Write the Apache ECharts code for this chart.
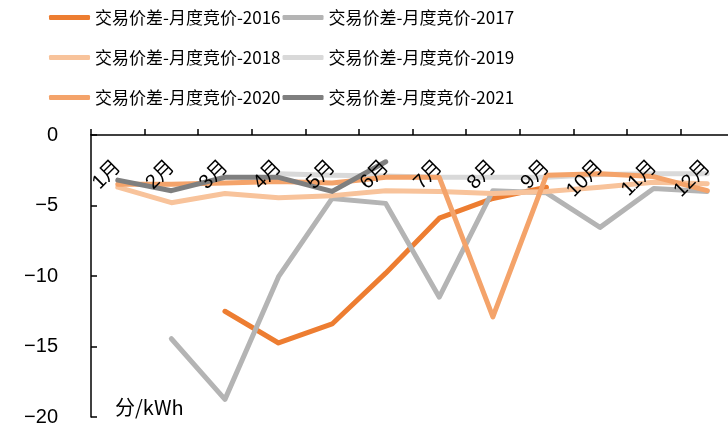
<!DOCTYPE html>
<html>
<head>
<meta charset="utf-8">
<script src="https://cdn.jsdelivr.net/npm/echarts@6/dist/echarts.min.js"></script>
<style>
  html, body { margin: 0; padding: 0; background: #fff; }
  #main { width: 728px; height: 430px; }
</style>
</head>
<body>
<div id="main"></div>
<script>
var chartDom = document.getElementById('main');
var myChart = echarts.init(chartDom);
var option;

// months along the top axis
let months = ['1月', '2月', '3月', '4月', '5月', '6月', '7月', '8月', '9月', '10月', '11月', '12月'];
let seriesNames = ['交易价差-月度竞价-2016', '交易价差-月度竞价-2017', '交易价差-月度竞价-2018',
  '交易价差-月度竞价-2019', '交易价差-月度竞价-2020', '交易价差-月度竞价-2021'];
let colors = ['#ED7D31', '#B4B4B4', '#F8C39B', '#D9D9D9', '#F4A36A', '#7F7F7F'];

// 分/kWh (null = no value that month)
let y2016 = [null, null, -12.5, -14.75, -13.4, -9.8, -5.9, -4.5, -3.7, null, null, null];
let y2017 = [null, -14.45, -18.75, -10.05, -4.5, -4.85, -11.5, -3.95, -4.1, -6.55, -3.8, -4.0];
let y2018 = [-3.7, -4.8, -4.15, -4.45, -4.3, -3.95, -4.0, -4.15, -4.0, -3.7, -3.35, -3.45];
let y2019 = [null, null, null, -2.75, -2.85, -2.9, -3.0, -3.0, -3.0, -2.8, -2.75, -2.75];
let y2020 = [-3.5, -3.5, -3.4, -3.3, -3.4, -3.0, -3.0, -12.9, -2.85, -2.75, -2.95, -3.95];
let y2021 = [-3.2, -3.95, -3.0, -3.0, -4.0, -1.9, null, null, null, null, null, null];
let allData = [y2016, y2017, y2018, y2019, y2020, y2021];

let cjk = "'Noto Sans CJK SC', sans-serif";
let latin = "'Liberation Sans', 'Noto Sans CJK SC', sans-serif";

let legendTops = [9, 49, 89];
let legends = legendTops.map(function (t, i) {
  return {
    top: t,
    left: 49,
    padding: 0,
    orient: 'horizontal',
    icon: 'roundRect',
    itemWidth: 41,
    itemHeight: 5,
    itemGap: 2,
    data: [seriesNames[i * 2], seriesNames[i * 2 + 1]],
    textStyle: { fontFamily: cjk, fontSize: 17, color: '#000', width: 188, padding: [0, 0, 0, 0] }
  };
});

let series = allData.map(function (d, i) {
  return {
    name: seriesNames[i],
    type: 'line',
    data: d,
    symbol: 'none',
    color: colors[i],
    lineStyle: { width: 5, color: colors[i], cap: 'round', join: 'round' }
  };
});

option = {
  animation: false,
  backgroundColor: '#fff',
  title: {
    text: '分/kWh',
    left: 115,
    top: 397,
    padding: 0,
    textStyle: { fontFamily: cjk, fontSize: 20, fontWeight: 'normal', color: '#000' }
  },
  legend: legends,
  grid: {
    left: 91,
    top: 135,
    width: 643,
    height: 282,
    containLabel: false,
    outerBoundsMode: 'none'
  },
  xAxis: {
    type: 'category',
    position: 'top',
    z: 5,
    data: months,
    axisLine: { show: true, onZero: false, lineStyle: { color: '#000', width: 1.5 } },
    axisTick: { show: true, length: 6, lineStyle: { color: '#000', width: 1.5 } },
    axisLabel: {
      inside: true,
      rotate: -45,
      margin: 29,
      interval: 0,
      fontFamily: latin,
      fontSize: 20,
      color: '#000'
    },
    splitLine: { show: false }
  },
  yAxis: {
    type: 'value',
    min: -20,
    max: 0,
    interval: 5,
    axisLine: { show: true, lineStyle: { color: '#000', width: 1.5 } },
    axisTick: { show: true, inside: true, length: 6, lineStyle: { color: '#000', width: 1.5 } },
    axisLabel: {
      margin: 33,
      fontFamily: latin,
      fontSize: 20,
      color: '#000',
      formatter: function (v) { return String(v).replace('-', '\u2212'); }
    },
    splitLine: { show: false }
  },
  series: series
};

option && myChart.setOption(option);
</script>
</body>
</html>
